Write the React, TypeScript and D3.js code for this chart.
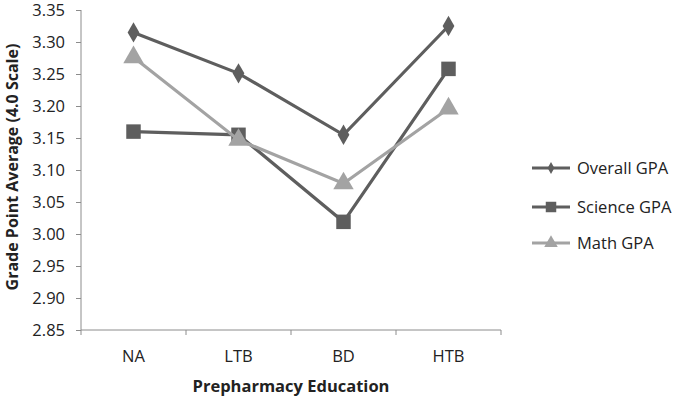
import React, { useEffect, useRef } from 'react';
import * as d3 from 'd3';

const categories = ['NA', 'LTB', 'BD', 'HTB'];
const overallGpa = [3.315, 3.251, 3.155, 3.325];
const scienceGpa = [3.16, 3.155, 3.019, 3.258];
const mathGpa = [3.276, 3.147, 3.079, 3.196];
const yTicks = [2.85, 2.9, 2.95, 3.0, 3.05, 3.1, 3.15, 3.2, 3.25, 3.3, 3.35];

const seriesNames = ['Overall GPA', 'Science GPA', 'Math GPA'];
const seriesValues = [overallGpa, scienceGpa, mathGpa];
const seriesSymbols = [d3.symbolDiamond, d3.symbolSquare, d3.symbolTriangle];
const seriesColors = ['#5e5e5e', '#5e5e5e', '#a3a3a3'];

const App = () => {
  const ref = useRef<SVGSVGElement>(null);

  useEffect(() => {
    const svg = d3.select(ref.current);
    svg.selectAll('*').remove();

    const left = 81, right = 501, top = 10, bottom = 330;
    const font = '"Open Sans", sans-serif';

    const x = d3.scaleBand().domain(categories).range([left, right]);
    const y = d3.scaleLinear().domain([2.85, 3.35]).range([bottom, top]);

    // Y axis
    const yAxis = svg
      .append('g')
      .attr('transform', 'translate(' + left + ',0)')
      .call(d3.axisLeft(y).tickValues(yTicks).tickFormat(d3.format('.2f')).tickSize(5).tickPadding(11));
    yAxis.select('.domain').attr('stroke', '#8c8c8c').attr('d', 'M0,' + top + 'V' + (bottom + 5));
    yAxis.selectAll('line').attr('stroke', '#8c8c8c');
    yAxis.selectAll('text').attr('font-family', font).attr('font-size', 16.5).attr('fill', '#222');

    // X axis
    const xAxis = svg
      .append('g')
      .attr('transform', 'translate(0,' + bottom + ')')
      .call(d3.axisBottom(x).tickSize(0).tickPadding(20));
    xAxis.select('.domain').attr('stroke', '#8c8c8c').attr('d', 'M' + left + ',0H' + right);
    xAxis.selectAll('text').attr('font-family', font).attr('font-size', 16.5).attr('fill', '#222');
    svg
      .append('g')
      .selectAll('line')
      .data(categories)
      .enter()
      .append('line')
      .attr('x1', (d) => (x(d) ?? 0) + x.bandwidth())
      .attr('x2', (d) => (x(d) ?? 0) + x.bandwidth())
      .attr('y1', bottom)
      .attr('y2', bottom + 5)
      .attr('stroke', '#8c8c8c');

    // Axis titles
    svg
      .append('text')
      .attr('x', (left + right) / 2)
      .attr('y', 392)
      .attr('text-anchor', 'middle')
      .attr('font-family', font)
      .attr('font-weight', 'bold')
      .attr('font-size', 16.5)
      .attr('fill', '#222')
      .text('Prepharmacy Education');
    svg
      .append('text')
      .attr('transform', 'translate(18,' + ((top + bottom) / 2 - 3) + ') rotate(-90)')
      .attr('text-anchor', 'middle')
      .attr('font-family', font)
      .attr('font-weight', 'bold')
      .attr('font-size', 16)
      .attr('fill', '#222')
      .text('Grade Point Average (4.0 Scale)');

    const cx = (i: number) => (x(categories[i]) ?? 0) + x.bandwidth() / 2;
    const line = d3
      .line<number>()
      .x((_, i) => cx(i))
      .y((d) => y(d));

    const symbolSizes = [120, 210, 180];

    seriesValues.forEach((vals, s) => {
      svg
        .append('path')
        .datum(vals)
        .attr('d', line)
        .attr('fill', 'none')
        .attr('stroke', seriesColors[s])
        .attr('stroke-width', 3.2);
      svg
        .append('g')
        .selectAll('path')
        .data(vals)
        .enter()
        .append('path')
        .attr('d', d3.symbol(seriesSymbols[s], symbolSizes[s]))
        .attr('transform', (d, i) => 'translate(' + cx(i) + ',' + y(d) + ')')
        .attr('fill', seriesColors[s]);
    });

    // Legend
    const legendY = [168, 207, 243];
    const legendSizes = [40, 110, 80];
    seriesNames.forEach((name, s) => {
      const g = svg.append('g').attr('transform', 'translate(0,' + legendY[s] + ')');
      g.append('line')
        .attr('x1', 532)
        .attr('x2', 570)
        .attr('stroke', seriesColors[s])
        .attr('stroke-width', 3.2);
      g.append('path')
        .attr('d', d3.symbol(seriesSymbols[s], legendSizes[s]))
        .attr('transform', 'translate(551,0)')
        .attr('fill', seriesColors[s]);
      g.append('text')
        .attr('x', 577)
        .attr('dy', '0.35em')
        .attr('font-family', font)
        .attr('font-size', 16.5)
        .attr('fill', '#222')
        .text(name);
    });
  }, []);

  return (
    <svg
      ref={ref}
      width={680}
      height={400}
      style={{ position: 'absolute', left: 0, top: 0, background: '#fff' }}
    />
  );
};

export default App;
